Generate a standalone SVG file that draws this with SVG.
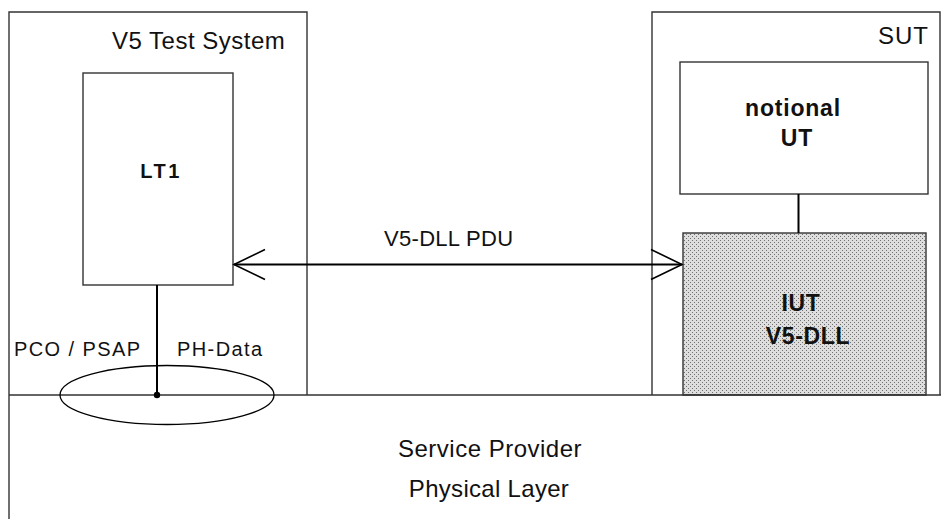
<svg xmlns="http://www.w3.org/2000/svg" width="941" height="521" viewBox="0 0 941 521">
<style>
.box{fill:none;stroke:#333;stroke-width:1.4}
.wbox{fill:#fff;stroke:#333;stroke-width:1.4}
.conn{fill:none;stroke:#000;stroke-width:2}
.lbl{font-family:"Liberation Sans",Arial,sans-serif;fill:#111}
.b{font-weight:bold}
</style>
<defs>
<pattern id="stipple" patternUnits="userSpaceOnUse" width="4" height="4">
<rect width="4" height="4" fill="#dedede"/>
<rect x="0" y="0" width="1" height="1" fill="#707070"/>
<rect x="2" y="2" width="1" height="1" fill="#707070"/>
</pattern>
<marker id="open" viewBox="-33 -17 35 34" refX="0" refY="0" markerWidth="35" markerHeight="34" markerUnits="userSpaceOnUse" orient="auto-start-reverse">
<path d="M-31,-15 L0,0 L-31,15" fill="none" stroke="#000" stroke-width="1.6"/>
</marker>
</defs>
<rect width="941" height="521" fill="#fff"/>

<g id="test-system">
<path class="box" d="M9,395 V12 H307 V395"/>
<text class="lbl" x="112" y="49" font-size="24" letter-spacing="0.5">V5 Test System</text>
</g>

<g id="lt1">
<rect class="wbox" x="83" y="73" width="150" height="212"/>
<text class="lbl b" x="161" y="178" font-size="20" letter-spacing="2.5" text-anchor="middle">LT1</text>
</g>

<g id="sut">
<path class="box" d="M652,395 V12 H940 V395"/>
<text class="lbl" x="929" y="44" font-size="24" letter-spacing="1" text-anchor="end">SUT</text>
</g>

<g id="notional-ut">
<rect class="wbox" x="680" y="62" width="248" height="132"/>
<text class="lbl b" x="793" y="116" font-size="23" letter-spacing="0.8" text-anchor="middle">notional</text>
<text class="lbl b" x="797" y="146" font-size="23" letter-spacing="0.8" text-anchor="middle">UT</text>
</g>

<g id="iut">
<rect x="683" y="233" width="243" height="162" fill="url(#stipple)" stroke="#333" stroke-width="1.4"/>
<text class="lbl b" x="801" y="311" font-size="23" letter-spacing="0.6" text-anchor="middle">IUT</text>
<text class="lbl b" x="808" y="344" font-size="23" letter-spacing="0.7" text-anchor="middle">V5-DLL</text>
</g>

<g id="physical-layer">
<path class="box" d="M9,395 H941 M9,395 V519"/>
<text class="lbl" x="490" y="457" font-size="24" letter-spacing="0.5" text-anchor="middle">Service Provider</text>
<text class="lbl" x="489" y="497" font-size="24" letter-spacing="0.3" text-anchor="middle">Physical Layer</text>
</g>

<g id="pco-psap">
<ellipse cx="167" cy="395" rx="107" ry="29.5" fill="none" stroke="#000" stroke-width="1.3"/>
<circle cx="157" cy="395" r="3.2" fill="#000"/>
<text class="lbl" x="14" y="356" font-size="20" letter-spacing="1.4">PCO / PSAP</text>
<text class="lbl" x="177" y="356" font-size="20" letter-spacing="1.4">PH-Data</text>
</g>

<g id="connectors">
<line class="conn" x1="234" y1="264.5" x2="682" y2="264.5" marker-start="url(#open)" marker-end="url(#open)"/>
<text class="lbl" x="384" y="246" font-size="22" letter-spacing="0.3">V5-DLL PDU</text>
<line class="conn" x1="157" y1="285" x2="157" y2="395"/>
<line class="conn" x1="798.5" y1="194" x2="798.5" y2="233"/>
</g>
</svg>
